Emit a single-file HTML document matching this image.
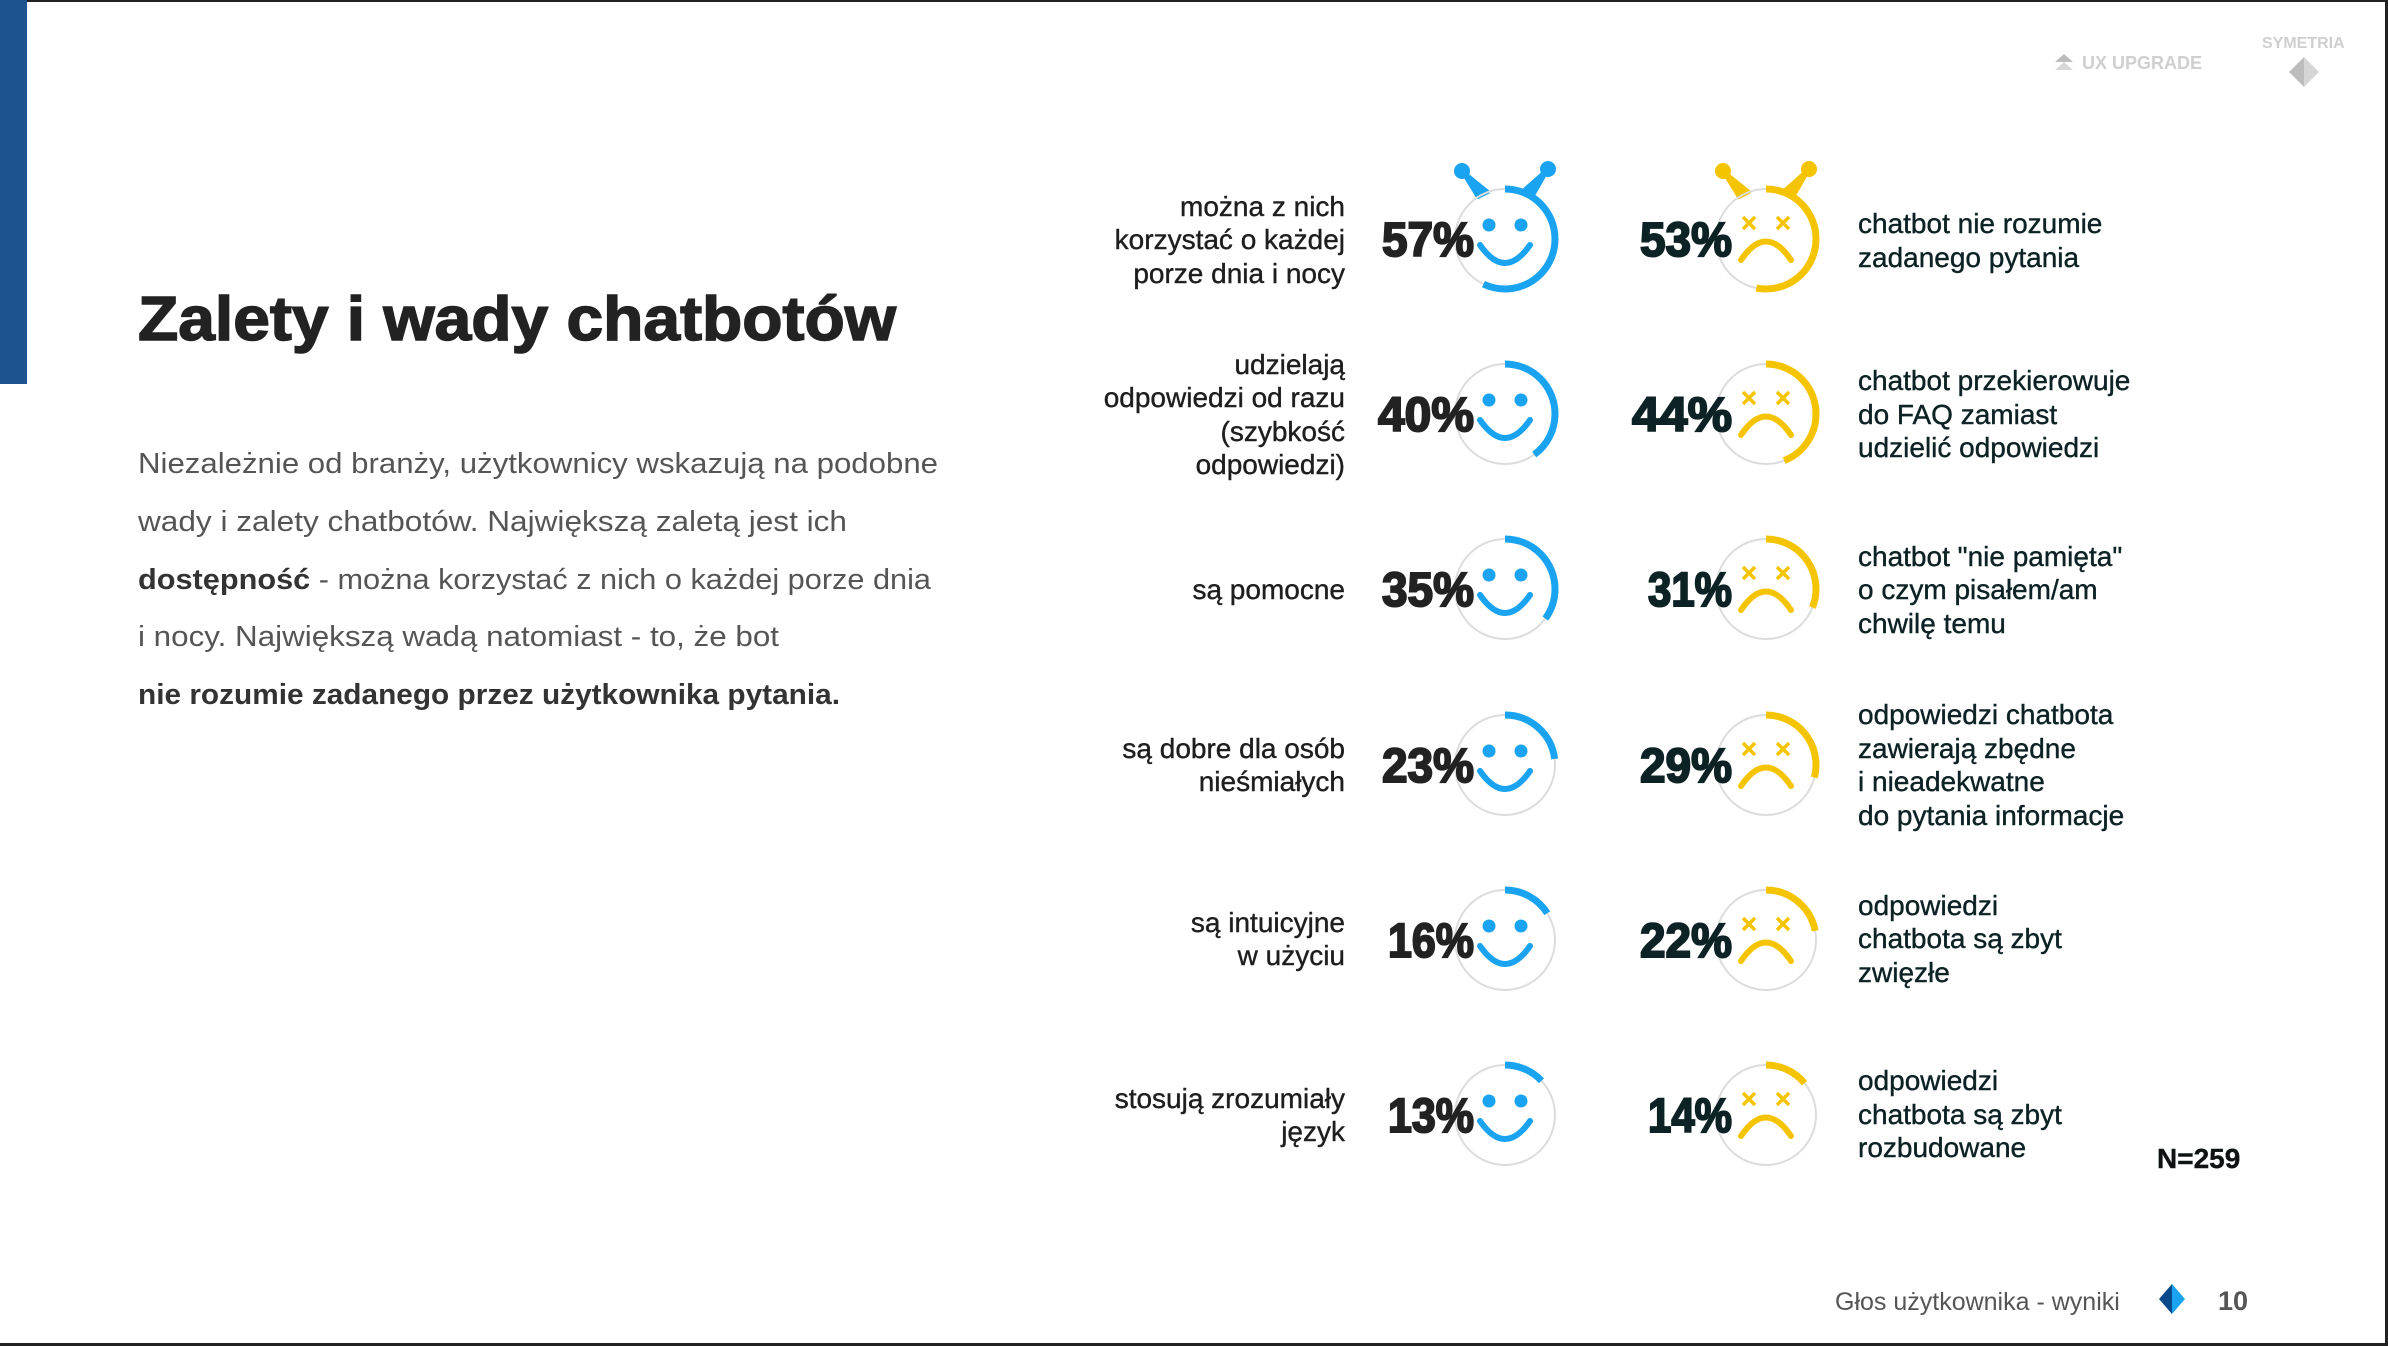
<!DOCTYPE html>
<html><head><meta charset="utf-8"><style>
html,body{margin:0;padding:0;background:#fff;}
svg{display:block}
text{font-family:"Liberation Sans",sans-serif}
</style></head><body>
<svg width="2388" height="1346" viewBox="0 0 2388 1346" xmlns="http://www.w3.org/2000/svg">
<defs>
<g id="bf">
<circle cx="0" cy="0" r="50" fill="none" stroke="#dcdcdc" stroke-width="2"/>
<circle cx="-16" cy="-14" r="6.5" fill="#1aa3f0"/><circle cx="16" cy="-14" r="6.5" fill="#1aa3f0"/>
<path d="M-25 6 Q0 42 25 6" fill="none" stroke="#1aa3f0" stroke-width="6" stroke-linecap="round"/>
</g>
<g id="yf">
<circle cx="0" cy="0" r="50" fill="none" stroke="#dcdcdc" stroke-width="2"/>
<path d="M-23 -22L-11 -10M-11 -22L-23 -10M11 -22L23 -10M23 -22L11 -10" stroke="#f5c400" stroke-width="3.5"/>
<path d="M-25 21 Q0 -16 25 21" fill="none" stroke="#f5c400" stroke-width="6" stroke-linecap="round"/>
</g>
</defs>
<rect x="0" y="0" width="2388" height="1346" fill="#fff"/>
<rect x="0" y="0" width="2388" height="2" fill="#222"/>
<rect x="2385" y="0" width="3" height="1346" fill="#222"/>
<rect x="0" y="1343" width="2388" height="3" fill="#222"/>
<rect x="0" y="0" width="27" height="384" fill="#1f5390"/>

<text x="138" y="340" font-size="62" font-weight="900" fill="#222" stroke="#222" stroke-width="1.5" textLength="758" lengthAdjust="spacingAndGlyphs">Zalety i wady chatbotów</text>

<g font-size="29" fill="#555">
<text x="138" y="473" textLength="800" lengthAdjust="spacingAndGlyphs">Niezależnie od branży, użytkownicy wskazują na podobne</text>
<text x="138" y="531" textLength="709" lengthAdjust="spacingAndGlyphs">wady i zalety chatbotów. Największą zaletą jest ich</text>
<text x="138" y="589" textLength="793" lengthAdjust="spacingAndGlyphs"><tspan font-weight="bold" fill="#333">dostępność</tspan> - można korzystać z nich o każdej porze dnia</text>
<text x="138" y="646" textLength="641" lengthAdjust="spacingAndGlyphs">i nocy. Największą wadą natomiast - to, że bot</text>
<text x="138" y="704" font-weight="bold" fill="#333" textLength="702" lengthAdjust="spacingAndGlyphs">nie rozumie zadanego przez użytkownika pytania.</text>
</g>

<g>
<polygon points="2055,62 2064,54 2073,62" fill="#bdbdbd"/><polygon points="2055,70 2064,62 2073,70" fill="#d8d8d8"/>
<text x="2082" y="69" font-size="18" font-weight="bold" fill="#cfcfcf">UX UPGRADE</text>
<text x="2262" y="48" font-size="16" font-weight="bold" fill="#cfcfcf">SYMETRIA</text>
<polygon points="2304,57 2304,87 2289,72" fill="#bdbdbd"/><polygon points="2304,57 2304,87 2319,72" fill="#d5d5d5"/>
</g>

<g font-size="28" fill="#1e1e1e" text-anchor="end" stroke="#1e1e1e" stroke-width="0.4">
<text x="1345" y="216">można z nich</text><text x="1345" y="249">korzystać o każdej</text><text x="1345" y="283">porze dnia i nocy</text>
<text x="1345" y="374">udzielają</text><text x="1345" y="407">odpowiedzi od razu</text><text x="1345" y="441">(szybkość</text><text x="1345" y="474">odpowiedzi)</text>
<text x="1345" y="599">są pomocne</text>
<text x="1345" y="758">są dobre dla osób</text><text x="1345" y="791">nieśmiałych</text>
<text x="1345" y="932">są intuicyjne</text><text x="1345" y="965">w użyciu</text>
<text x="1345" y="1108">stosują zrozumiały</text><text x="1345" y="1141">język</text>
</g>
<g font-size="28" fill="#0d2224" stroke="#0d2224" stroke-width="0.4">
<text x="1858" y="233">chatbot nie rozumie</text><text x="1858" y="267">zadanego pytania</text>
<text x="1858" y="390">chatbot przekierowuje</text><text x="1858" y="424">do FAQ zamiast</text><text x="1858" y="457">udzielić odpowiedzi</text>
<text x="1858" y="566">chatbot "nie pamięta"</text><text x="1858" y="599">o czym pisałem/am</text><text x="1858" y="633">chwilę temu</text>
<text x="1858" y="724">odpowiedzi chatbota</text><text x="1858" y="758">zawierają zbędne</text><text x="1858" y="791">i nieadekwatne</text><text x="1858" y="825">do pytania informacje</text>
<text x="1858" y="915">odpowiedzi</text><text x="1858" y="948">chatbota są zbyt</text><text x="1858" y="982">zwięzłe</text>
<text x="1858" y="1090">odpowiedzi</text><text x="1858" y="1124">chatbota są zbyt</text><text x="1858" y="1157">rozbudowane</text>
<text x="2157" y="1168" font-weight="bold" fill="#111">N=259</text>
</g>

<g fill="#1aa3f0" stroke="#1aa3f0" stroke-width="4" stroke-linejoin="round">
<polygon points="1478,197 1488,192 1462,171"/><circle cx="1462" cy="171" r="6"/>
<polygon points="1532,197 1522,192 1548,169"/><circle cx="1548" cy="169" r="6"/>
</g>
<g fill="#f5c400" stroke="#f5c400" stroke-width="4" stroke-linejoin="round">
<polygon points="1739,197 1749,192 1723,171"/><circle cx="1723" cy="171" r="6"/>
<polygon points="1793,197 1783,192 1809,169"/><circle cx="1809" cy="169" r="6"/>
</g>

<use href="#bf" transform="translate(1505 239)"/><use href="#yf" transform="translate(1766 239)"/>
<use href="#bf" transform="translate(1505 414)"/><use href="#yf" transform="translate(1766 414)"/>
<use href="#bf" transform="translate(1505 589)"/><use href="#yf" transform="translate(1766 589)"/>
<use href="#bf" transform="translate(1505 765)"/><use href="#yf" transform="translate(1766 765)"/>
<use href="#bf" transform="translate(1505 940)"/><use href="#yf" transform="translate(1766 940)"/>
<use href="#bf" transform="translate(1505 1115)"/><use href="#yf" transform="translate(1766 1115)"/>

<g fill="none" stroke-width="7">
<circle cx="1505" cy="239" r="50" stroke="#1aa3f0" stroke-dasharray="179.07 400" transform="rotate(-90 1505 239)"/>
<circle cx="1505" cy="414" r="50" stroke="#1aa3f0" stroke-dasharray="125.66 400" transform="rotate(-90 1505 414)"/>
<circle cx="1505" cy="589" r="50" stroke="#1aa3f0" stroke-dasharray="109.96 400" transform="rotate(-90 1505 589)"/>
<circle cx="1505" cy="765" r="50" stroke="#1aa3f0" stroke-dasharray="72.26 400" transform="rotate(-90 1505 765)"/>
<circle cx="1505" cy="940" r="50" stroke="#1aa3f0" stroke-dasharray="50.27 400" transform="rotate(-90 1505 940)"/>
<circle cx="1505" cy="1115" r="50" stroke="#1aa3f0" stroke-dasharray="40.84 400" transform="rotate(-90 1505 1115)"/>
<circle cx="1766" cy="239" r="50" stroke="#f5c400" stroke-dasharray="166.50 400" transform="rotate(-90 1766 239)"/>
<circle cx="1766" cy="414" r="50" stroke="#f5c400" stroke-dasharray="138.23 400" transform="rotate(-90 1766 414)"/>
<circle cx="1766" cy="589" r="50" stroke="#f5c400" stroke-dasharray="97.39 400" transform="rotate(-90 1766 589)"/>
<circle cx="1766" cy="765" r="50" stroke="#f5c400" stroke-dasharray="91.11 400" transform="rotate(-90 1766 765)"/>
<circle cx="1766" cy="940" r="50" stroke="#f5c400" stroke-dasharray="69.12 400" transform="rotate(-90 1766 940)"/>
<circle cx="1766" cy="1115" r="50" stroke="#f5c400" stroke-dasharray="43.98 400" transform="rotate(-90 1766 1115)"/>
</g>

<g font-size="48" font-weight="900" text-anchor="end" stroke-width="2">
<text x="1474" y="256" fill="#222" stroke="#222" textLength="92" lengthAdjust="spacingAndGlyphs">57%</text>
<text x="1474" y="431" fill="#222" stroke="#222" textLength="96" lengthAdjust="spacingAndGlyphs">40%</text>
<text x="1474" y="606" fill="#222" stroke="#222" textLength="92" lengthAdjust="spacingAndGlyphs">35%</text>
<text x="1474" y="782" fill="#222" stroke="#222" textLength="92" lengthAdjust="spacingAndGlyphs">23%</text>
<text x="1474" y="957" fill="#222" stroke="#222" textLength="86" lengthAdjust="spacingAndGlyphs">16%</text>
<text x="1474" y="1132" fill="#222" stroke="#222" textLength="86" lengthAdjust="spacingAndGlyphs">13%</text>
<text x="1732" y="256" fill="#0d2224" stroke="#0d2224" textLength="92" lengthAdjust="spacingAndGlyphs">53%</text>
<text x="1732" y="431" fill="#0d2224" stroke="#0d2224" textLength="100" lengthAdjust="spacingAndGlyphs">44%</text>
<text x="1732" y="606" fill="#0d2224" stroke="#0d2224" textLength="84" lengthAdjust="spacingAndGlyphs">31%</text>
<text x="1732" y="782" fill="#0d2224" stroke="#0d2224" textLength="92" lengthAdjust="spacingAndGlyphs">29%</text>
<text x="1732" y="957" fill="#0d2224" stroke="#0d2224" textLength="92" lengthAdjust="spacingAndGlyphs">22%</text>
<text x="1732" y="1132" fill="#0d2224" stroke="#0d2224" textLength="84" lengthAdjust="spacingAndGlyphs">14%</text>
</g>

<text x="1835" y="1310" font-size="25" fill="#555">Głos użytkownika - wyniki</text>
<polygon points="2172,1284 2172,1314 2159,1299" fill="#0b4a8a"/><polygon points="2172,1284 2172,1314 2185,1299" fill="#1aa3f0"/>
<text x="2218" y="1310" font-size="27" font-weight="bold" fill="#555">10</text>
</svg>
</body></html>
